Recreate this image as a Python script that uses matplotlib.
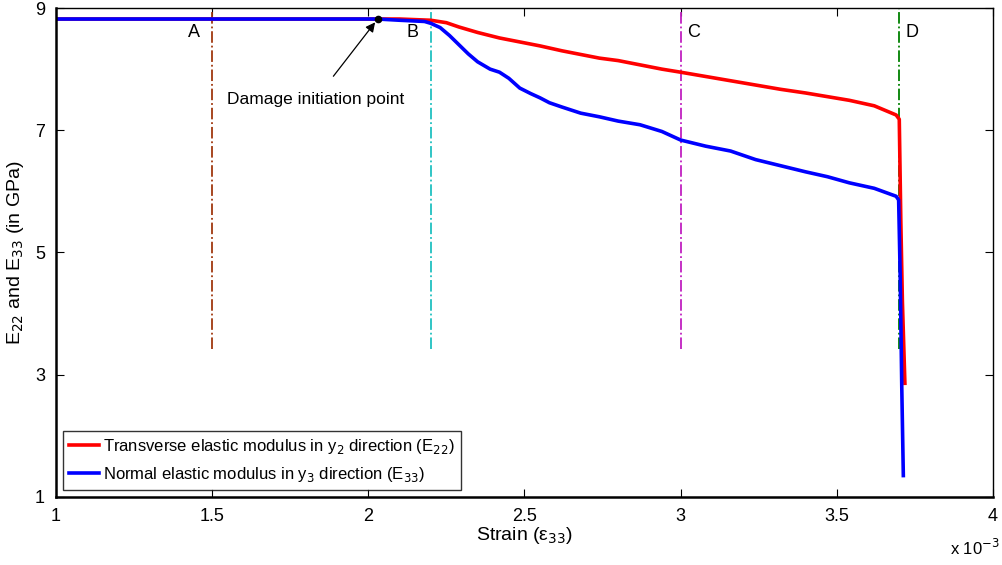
import numpy as np
import matplotlib.pyplot as plt
from matplotlib.ticker import FormatStrFormatter

plt.rcParams['font.family'] = ['Liberation Sans', 'DejaVu Sans']

# strain in units of 1e-3
strain_e22 = [1.0, 1.5, 2.03, 2.1, 2.2, 2.25, 2.29, 2.35, 2.42, 2.48, 2.55, 2.62, 2.68,
              2.74, 2.8, 2.87, 2.94, 3.0, 3.08, 3.16, 3.24, 3.32, 3.4, 3.47, 3.54, 3.62,
              3.69, 3.70, 3.705, 3.71, 3.718]
e22 = [8.82, 8.82, 8.82, 8.82, 8.80, 8.76, 8.69, 8.60, 8.51, 8.45, 8.38, 8.30, 8.24,
       8.18, 8.14, 8.07, 8.00, 7.95, 7.88, 7.81, 7.74, 7.67, 7.61, 7.55, 7.49, 7.40,
       7.25, 7.18, 5.5, 4.2, 2.86]

strain_e33 = [1.0, 1.5, 2.03, 2.1, 2.18, 2.2, 2.23, 2.26, 2.29, 2.32, 2.35, 2.39, 2.42,
              2.45, 2.485, 2.52, 2.55, 2.58, 2.62, 2.68, 2.74, 2.8, 2.87, 2.94, 3.0,
              3.08, 3.16, 3.24, 3.32, 3.4, 3.47, 3.54, 3.62, 3.69, 3.698, 3.703, 3.708,
              3.713]
e33 = [8.82, 8.82, 8.82, 8.80, 8.78, 8.75, 8.68, 8.55, 8.40, 8.25, 8.12, 8.00, 7.95,
       7.85, 7.69, 7.60, 7.53, 7.45, 7.38, 7.28, 7.22, 7.15, 7.09, 6.98, 6.84, 6.74,
       6.66, 6.52, 6.42, 6.32, 6.24, 6.14, 6.05, 5.92, 5.86, 4.6, 2.8, 1.35]

marker_x = [1.5, 2.2, 3.0, 3.7]
marker_labels = ['A', 'B', 'C', 'D']
marker_colors = ['#a0380f', '#20c0c0', '#c020c0', '#008000']
marker_bottom = 3.42

damage_x, damage_y = 2.03, 8.82

fig = plt.figure(figsize=(10.03, 5.65), dpi=100)
ax = fig.add_axes([0.0558, 0.1204, 0.9342, 0.8654])

for xv, lab, c in zip(marker_x, marker_labels, marker_colors):
    ax.plot([xv, xv], [marker_bottom, 9], linestyle='-.', color=c, lw=1.3)
    if lab in ('A', 'B'):
        ax.text(xv - 0.04, 8.6, lab, ha='right', va='center', fontsize=13)
    else:
        ax.text(xv + 0.02, 8.6, lab, ha='left', va='center', fontsize=13)

ax.plot(strain_e22, e22, color='#ff0000', lw=2.6,
        label='Transverse elastic modulus in y$_2$ direction (E$_{22}$)')
ax.plot(strain_e33, e33, color='#0000ff', lw=2.6,
        label='Normal elastic modulus in y$_3$ direction (E$_{33}$)')

ax.plot([damage_x], [damage_y], 'o', color='black', ms=4.5)
ax.annotate('Damage initiation point', xy=(damage_x, damage_y), xytext=(1.83, 7.5),
            ha='center', va='center', fontsize=12.5,
            arrowprops=dict(arrowstyle='-|>', color='black', lw=0.9,
                            shrinkA=12, shrinkB=3, mutation_scale=14))

ax.set_xlim(1, 4)
ax.set_ylim(1, 9)
ax.set_xticks([1, 1.5, 2, 2.5, 3, 3.5, 4])
ax.set_yticks([1, 3, 5, 7, 9])
ax.xaxis.set_major_formatter(FormatStrFormatter('%g'))
ax.tick_params(direction='in', top=True, right=True, labelsize=13, length=6, pad=8)
for s in ax.spines.values():
    s.set_linewidth(1.0)
ax.spines['bottom'].set_linewidth(1.8)
ax.spines['left'].set_linewidth(1.8)

ax.set_xlabel('Strain (ε$_{33}$)', fontsize=14, labelpad=0)
ax.set_ylabel('E$_{22}$ and E$_{33}$ (in GPa)', fontsize=14, labelpad=6)
fig.text(0.947, 0.03, 'x 10$^{-3}$', fontsize=12, ha='left', va='center')

leg = ax.legend(loc='lower left', fontsize=12, frameon=True, fancybox=False,
                edgecolor='black', handlelength=1.8, borderaxespad=0.4,
                handletextpad=0.2, borderpad=0.4, labelspacing=0.5)
leg.get_frame().set_linewidth(1.0)

fig.savefig('out.png', dpi=100)
